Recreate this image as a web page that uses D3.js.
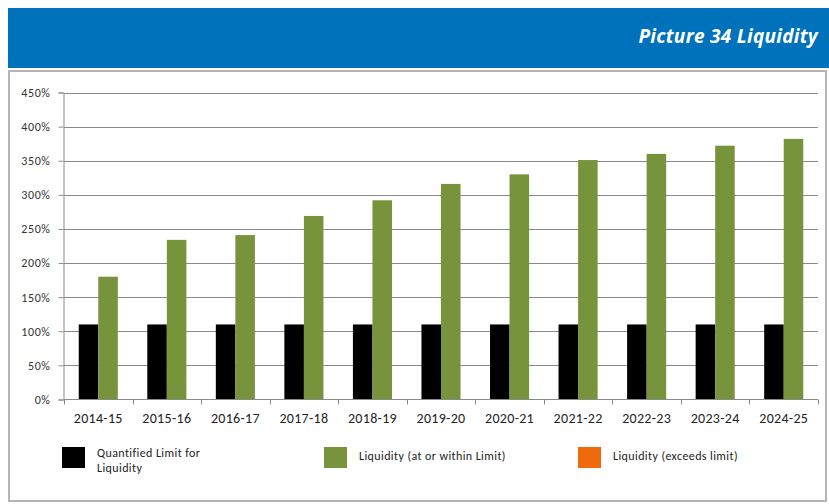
<!DOCTYPE html>
<html>
<head>
<meta charset="utf-8">
<script src="https://cdn.jsdelivr.net/npm/d3@7"></script>
<style>
  html, body { margin: 0; padding: 0; background: #fff; }
  svg { display: block; }
</style>
</head>
<body>
<svg id="chart" width="829" height="504"></svg>
<script>
// Financial years on the category axis
const years = ["2014-15", "2015-16", "2016-17", "2017-18", "2018-19", "2019-20",
               "2020-21", "2021-22", "2022-23", "2023-24", "2024-25"];
// Quantified limit for liquidity (%)
const limitValues = [110, 110, 110, 110, 110, 110, 110, 110, 110, 110, 110];
// Liquidity at or within the limit (%)
const liquidityValues = [180, 234, 241, 269, 292, 316, 330, 351, 360, 372, 382];
// Y-axis tick values (%)
const yTicks = [0, 50, 100, 150, 200, 250, 300, 350, 400, 450];
// Legend entries
const legendLabels = [["Quantified Limit for", "Liquidity"], ["Liquidity  (at or within Limit)"], ["Liquidity  (exceeds limit)"]];

const colors = { limit: "#000000", within: "#77933C", exceeds: "#EE6A0C" };
const font = "Carlito, Calibri, Lato, 'Open Sans', sans-serif";

const svg = d3.select("#chart");

// Header band with title
svg.append("rect").attr("x", 8).attr("y", 8).attr("width", 821).attr("height", 60).attr("fill", "#0072BC");
svg.append("text")
  .attr("x", 818).attr("y", 43)
  .attr("text-anchor", "end")
  .attr("fill", "#fff")
  .attr("font-family", "'Open Sans', sans-serif")
  .attr("font-weight", "bold")
  .attr("font-style", "italic")
  .attr("font-size", 19)
  .attr("letter-spacing", 0.3)
  .text("Picture 34 Liquidity");

// Chart frame
svg.append("rect").attr("x", 9).attr("y", 71).attr("width", 817).attr("height", 430)
  .attr("fill", "#fff").attr("stroke", "#b5b5b5").attr("stroke-width", 2);

const plot = { left: 64, right: 818, top: 92.5, bottom: 399.5 };

const x = d3.scaleBand().domain(years).range([plot.left, plot.right]).paddingInner(0).paddingOuter(0);
const y = d3.scaleLinear().domain([0, 450]).range([plot.bottom, plot.top]);

const groupWidth = x.bandwidth() * 0.57;
const inner = d3.scaleBand().domain(["limit", "within"]).range([0, groupWidth]);
const groupOffset = (x.bandwidth() - groupWidth) / 2;

// Horizontal gridlines
svg.append("g")
  .selectAll("line").data(yTicks.filter(d => d > 0)).join("line")
  .attr("x1", plot.left).attr("x2", plot.right)
  .attr("y1", d => Math.round(y(d)) + 0.5).attr("y2", d => Math.round(y(d)) + 0.5)
  .attr("stroke", "#8a8a8a").attr("stroke-width", 1);

// Y axis
const yAxis = svg.append("g")
  .attr("transform", `translate(${plot.left - 0.5},0)`)
  .call(d3.axisLeft(y).tickValues(yTicks).tickSize(5).tickPadding(8).tickFormat(d => d + "%"));
yAxis.select(".domain").attr("stroke", "#8a8a8a");
yAxis.selectAll(".tick line").attr("stroke", "#8a8a8a");
yAxis.selectAll(".tick text").attr("font-family", font).attr("font-size", 12)
  .attr("letter-spacing", 0.6).attr("fill", "#333");

// Bars
const groups = svg.append("g").selectAll("g").data(years).join("g")
  .attr("transform", d => `translate(${x(d) + groupOffset},0)`);

groups.append("rect")
  .attr("x", inner("limit"))
  .attr("width", inner.bandwidth())
  .attr("y", (d, i) => y(limitValues[i]))
  .attr("height", (d, i) => y(0) - y(limitValues[i]))
  .attr("fill", colors.limit);

groups.append("rect")
  .attr("x", inner("within"))
  .attr("width", inner.bandwidth())
  .attr("y", (d, i) => y(liquidityValues[i]))
  .attr("height", (d, i) => y(0) - y(liquidityValues[i]))
  .attr("fill", colors.within);

// X axis with ticks on category boundaries
const xAxisG = svg.append("g").attr("transform", `translate(0,${plot.bottom})`);
xAxisG.append("line").attr("x1", plot.left).attr("x2", plot.right).attr("stroke", "#8a8a8a");
xAxisG.selectAll("line.tick").data(years.concat(["end"])).join("line")
  .attr("class", "tick")
  .attr("x1", (d, i) => Math.round(plot.left + i * x.bandwidth()) + 0.5)
  .attr("x2", (d, i) => Math.round(plot.left + i * x.bandwidth()) + 0.5)
  .attr("y1", 0).attr("y2", 5)
  .attr("stroke", "#8a8a8a");
xAxisG.selectAll("text").data(years).join("text")
  .attr("x", d => x(d) + x.bandwidth() / 2)
  .attr("y", 23.5)
  .attr("text-anchor", "middle")
  .attr("font-family", font).attr("font-size", 14).attr("letter-spacing", 0.3).attr("fill", "#222")
  .text(d => d);

// Legend
const legendItems = [
  { color: colors.limit, x: 62, lines: legendLabels[0] },
  { color: colors.within, x: 324, lines: legendLabels[1] },
  { color: colors.exceeds, x: 578, lines: legendLabels[2] }
];
const legend = svg.append("g").selectAll("g").data(legendItems).join("g")
  .attr("transform", d => `translate(${d.x},447)`);
legend.append("rect").attr("width", 23).attr("height", 21).attr("fill", d => d.color);
legend.append("text")
  .attr("font-family", font).attr("font-size", 12).attr("letter-spacing", 0.4).attr("fill", "#222")
  .selectAll("tspan").data(d => d.lines.map((t, i) => ({ t, i, n: d.lines.length }))).join("tspan")
  .attr("x", 35)
  .attr("y", d => d.n > 1 ? 10 + d.i * 15 : 13)
  .text(d => d.t);
</script>
</body>
</html>
